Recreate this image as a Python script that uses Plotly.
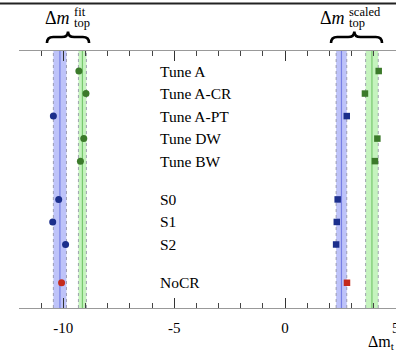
import plotly.graph_objects as go

# Generator tunes / models
labels = ["Tune A", "Tune A-CR", "Tune A-PT", "Tune DW", "Tune BW",
          "S0", "S1", "S2", "NoCR"]
rows = [1, 2, 3, 4, 5, 6.7, 7.7, 8.7, 10.4]
groups = ["green", "green", "blue", "green", "green",
          "blue", "blue", "blue", "red"]

# Mass shifts (GeV)
dm_fit = [-9.30, -8.98, -10.45, -9.08, -9.23, -10.21, -10.48, -9.90, -10.08]
dm_scaled = [4.22, 3.60, 2.78, 4.16, 4.05, 2.37, 2.33, 2.30, 2.79]

# Bands: (centre, half-width)
fit_bands = {"blue": (-10.155, 0.295), "green": (-9.14, 0.18)}
scaled_bands = {"blue": (2.54, 0.24), "green": (3.915, 0.285)}

tick_vals = [-10, -5, 0, 5]
tick_text = ["-10", "-5", "0", "5"]

marker_col = {"green": "#3b7a2a", "blue": "#1c2f8c", "red": "#c42a1c"}
band_fill = {"blue": "rgba(150,158,245,0.62)", "green": "rgba(175,238,165,0.72)"}
band_line = {"blue": "rgba(110,120,225,0.9)", "green": "rgba(110,195,100,0.9)"}

SERIF = "Liberation Serif, Times New Roman, serif"

fig = go.Figure()

shapes = []
for bands in (fit_bands, scaled_bands):
    for name, (c, hw) in bands.items():
        shapes.append(dict(type="rect", xref="x", yref="paper",
                           x0=c - hw, x1=c + hw, y0=0, y1=1,
                           fillcolor=band_fill[name], line=dict(width=0),
                           layer="below"))
        for edge in (c - hw, c + hw):
            shapes.append(dict(type="line", xref="x", yref="paper",
                               x0=edge, x1=edge, y0=0, y1=1,
                               line=dict(color="rgba(140,140,160,0.8)",
                                         width=1, dash="dot"),
                               layer="below"))
        shapes.append(dict(type="line", xref="x", yref="paper",
                           x0=c, x1=c, y0=0, y1=1,
                           line=dict(color=band_line[name], width=1.2),
                           layer="below"))


def brace(x0, x1, xc, y_end=1.031, y_mid=1.0546, y_top=1.076, r=0.28):
    p = (f"M {x0},{y_end} Q {x0},{y_mid} {x0 + r},{y_mid} "
         f"L {xc - r},{y_mid} Q {xc},{y_mid} {xc},{y_top} "
         f"Q {xc},{y_mid} {xc + r},{y_mid} "
         f"L {x1 - r},{y_mid} Q {x1},{y_mid} {x1},{y_end}")
    return dict(type="path", xref="x", yref="paper", path=p,
                line=dict(color="black", width=2.6))


shapes.append(brace(-10.74, -8.84, -9.79))
shapes.append(brace(2.07, 4.37, 3.12))
# frame line across the top
shapes.append(dict(type="line", xref="paper", yref="paper",
                   x0=-0.06, x1=1.0, y0=1.185, y1=1.185,
                   line=dict(color="#222222", width=2)))

for g in ["green", "blue", "red"]:
    idx = [i for i, gg in enumerate(groups) if gg == g]
    fig.add_trace(go.Scatter(
        x=[dm_fit[i] for i in idx], y=[rows[i] for i in idx],
        mode="markers", marker=dict(symbol="circle", size=7,
                                    color=marker_col[g]),
        showlegend=False, cliponaxis=False))
    fig.add_trace(go.Scatter(
        x=[dm_scaled[i] for i in idx], y=[rows[i] for i in idx],
        mode="markers", marker=dict(symbol="square", size=6.5,
                                    color=marker_col[g]),
        showlegend=False, cliponaxis=False))

annotations = []
for lab, r in zip(labels, rows):
    annotations.append(dict(x=-5.73, y=r, xref="x", yref="y", text=lab,
                            showarrow=False, xanchor="left", yanchor="middle",
                            font=dict(family=SERIF, size=15.5, color="black")))
annotations.append(dict(x=-5.73, y=-0.38, xref="x", yref="y",
                        text="Pythia v6.416", showarrow=False,
                        xanchor="left", yanchor="middle",
                        font=dict(family=SERIF, size=15.5, color="black")))


def mass_label(x, sup):
    return [
        dict(x=x, y=1.1286, xref="x", yref="paper", text="Δ<i>m</i>",
             showarrow=False, xanchor="right", yanchor="middle",
             font=dict(family=SERIF, size=18, color="black")),
        dict(x=x, y=1.1535, xref="x", yref="paper", text=sup,
             showarrow=False, xanchor="left", yanchor="middle",
             font=dict(family=SERIF, size=12.5, color="black")),
        dict(x=x, y=1.1091, xref="x", yref="paper", text="top",
             showarrow=False, xanchor="left", yanchor="middle",
             font=dict(family=SERIF, size=12.5, color="black")),
    ]


annotations += mass_label(-9.61, "fit")
annotations += mass_label(2.78, "scaled")
annotations.append(dict(x=3.66, y=-0.1336, xref="x", yref="paper",
                        text="Δm<sub>t</sub>", showarrow=False,
                        xanchor="left", yanchor="middle",
                        font=dict(family=SERIF, size=16, color="black")))
# last tick label sits on the right edge of the figure
annotations.append(dict(x=tick_vals[-1], y=-0.079, xref="x", yref="paper",
                        text=tick_text[-1], showarrow=False,
                        xanchor="center", yanchor="middle",
                        font=dict(family=SERIF, size=15, color="black")))

fig.update_layout(
    width=396, height=354,
    margin=dict(l=19, r=0, t=51, b=46),
    paper_bgcolor="white", plot_bgcolor="white",
    shapes=shapes, annotations=annotations,
    xaxis=dict(range=[-12, 5], tickvals=tick_vals[:-1],
               ticktext=tick_text[:-1],
               ticks="inside", ticklen=10, tickwidth=1.3, tickcolor="#333",
               showline=True, linecolor="#999", linewidth=1,
               mirror="allticks", showgrid=False, zeroline=False,
               ticklabelstandoff=6,
               tickfont=dict(family=SERIF, size=15, color="black"),
               minor=dict(dtick=1, tick0=0, ticks="inside", ticklen=5,
                          tickwidth=1.2, tickcolor="#444", showgrid=False)),
    yaxis=dict(range=[11.52, 0.111], visible=False, showgrid=False,
               zeroline=False),
)

fig.write_html("out.html")
